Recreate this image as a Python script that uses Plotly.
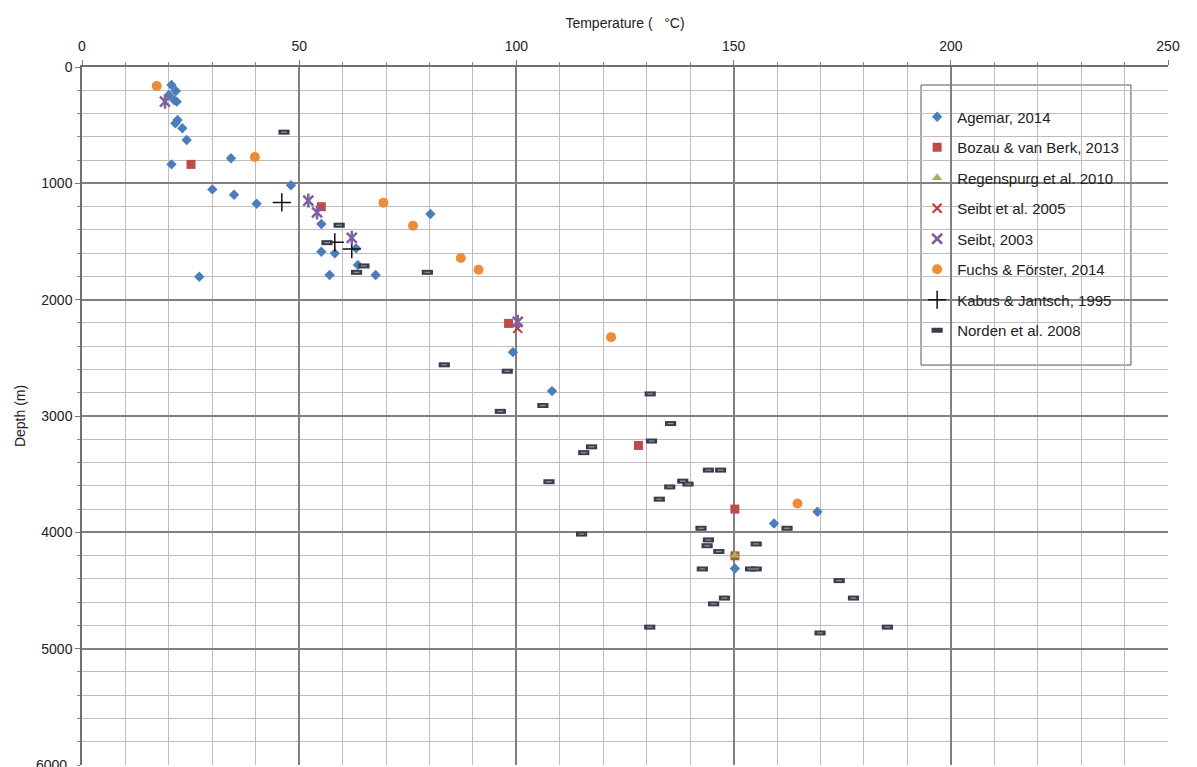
import plotly.graph_objects as go

# Temperature (°C) / depth (m) pairs per source
agemar_t = [20.6, 21.6, 20.0, 21.2, 21.8, 22.0, 21.5, 23.1, 24.1, 20.6, 34.3, 30.0, 35.0, 40.2,
            48.1, 27.0, 55.1, 55.1, 58.2, 63.1, 63.5, 57.0, 67.6, 80.2, 99.2, 108.2, 159.3, 169.3, 150.3]
agemar_d = [155, 206, 241, 284, 298, 456, 484, 527, 628, 837, 785, 1052, 1098, 1175,
            1017, 1803, 1350, 1588, 1602, 1559, 1702, 1788, 1788, 1264, 2451, 2786, 3924, 3823, 4311]

bozau_t = [25.1, 55.1, 98.2, 128.1, 150.3, 150.3]
bozau_d = [837, 1201, 2204, 3253, 3800, 4202]

regenspurg_t = [150.3]
regenspurg_d = [4200]

seibt2005_t = [100.3]
seibt2005_d = [2247]

seibt2003_t = [19.1, 52.1, 54.1, 62.1, 100.3]
seibt2003_d = [298, 1148, 1250, 1468, 2190]

fuchs_t = [17.2, 39.8, 69.4, 76.2, 87.2, 91.3, 121.8, 164.7]
fuchs_d = [163, 774, 1167, 1364, 1642, 1743, 2322, 3752]

kabus_t = [46.0, 58.2, 62.1]
kabus_d = [1164, 1507, 1565]

norden_t = [46.5, 59.2, 56.4, 64.9, 63.2, 79.5, 83.4, 97.9, 96.3, 106.1, 130.8, 135.5, 131.1,
            117.3, 115.5, 107.5, 144.2, 147.0, 138.3, 139.5, 135.3, 132.9, 115.0, 142.5, 144.2,
            143.9, 146.6, 155.2, 162.3, 142.8, 153.9, 155.2, 174.3, 177.6, 147.9, 145.4, 130.7,
            169.9, 185.4]
norden_d = [560, 1360, 1510, 1710, 1765, 1765, 2560, 2615, 2960, 2910, 2810, 3065, 3215,
            3265, 3315, 3565, 3465, 3465, 3560, 3585, 3610, 3715, 4015, 3965, 4065,
            4115, 4165, 4100, 3965, 4315, 4315, 4315, 4415, 4565, 4565, 4615, 4815,
            4865, 4815]

y_ticks = [0, 1000, 2000, 3000, 4000, 5000]
y_max = 6000

FONT = "Liberation Sans, Arial, sans-serif"
TXT = "#222222"
PURPLE = "#7D60A0"

series = [
    ("Agemar, 2014", agemar_t, agemar_d, dict(symbol="diamond", size=8, color="#4A7EBB")),
    ("Bozau & van Berk, 2013", bozau_t, bozau_d, dict(symbol="square", size=9, color="#BE4B48")),
    ("Regenspurg et al. 2010", regenspurg_t, regenspurg_d,
     dict(symbol="triangle-up", size=9, color="#98B954")),
    ("Seibt et al. 2005", seibt2005_t, seibt2005_d,
     dict(symbol="x-thin-open", size=9, color="#D03030", line=dict(width=2, color="#D03030"))),
    ("Seibt, 2003", seibt2003_t, seibt2003_d,
     dict(symbol="x-thin-open", size=10, color=PURPLE, line=dict(width=2.5, color=PURPLE))),
    ("Fuchs & Förster, 2014", fuchs_t, fuchs_d, dict(symbol="circle", size=10, color="#F08C38")),
    ("Kabus & Jantsch, 1995", kabus_t, kabus_d,
     dict(symbol="cross-thin-open", size=13, color="#111111", line=dict(width=1.5, color="#111111"))),
    ("Norden et al. 2008", norden_t, norden_d,
     dict(symbol="line-ew-open", size=8, color="#3A3E4A", line=dict(width=5, color="#3A3E4A"))),
]

fig = go.Figure()
for i, (name, t, d, mk) in enumerate(series):
    fig.add_trace(go.Scatter(x=t, y=d, mode="markers", name=name, marker=mk,
                             legendgroup=f"g{i}", cliponaxis=False))

# vertical stroke that turns the Seibt 2003 cross into a star
fig.add_trace(go.Scatter(x=seibt2003_t, y=seibt2003_d, mode="markers", showlegend=False,
                         legendgroup="g4", hoverinfo="skip",
                         marker=dict(symbol="line-ns-open", size=10, color=PURPLE,
                                     line=dict(width=2.5, color=PURPLE))))

# light core of the Norden dash markers
fig.add_trace(go.Scatter(x=norden_t, y=norden_d, mode="markers", showlegend=False,
                         legendgroup="g7", hoverinfo="skip",
                         marker=dict(symbol="line-ew-open", size=4, color="#9098A8",
                                     line=dict(width=1.2, color="#9098A8"))))

fig.update_layout(
    width=1197, height=767,
    margin=dict(l=82, r=29, t=67, b=2),
    paper_bgcolor="white", plot_bgcolor="white",
    font=dict(family=FONT, size=14, color=TXT),
    showlegend=True,
    legend=dict(x=0.769, y=0.952, xanchor="left", yanchor="top",
                bgcolor="rgba(0,0,0,0)", borderwidth=0,
                font=dict(family=FONT, size=15, color=TXT),
                tracegroupgap=8, itemwidth=30),
    shapes=[dict(type="rect", xref="paper", yref="paper",
                 x0=0.7726, x1=0.9659, y0=0.573, y1=0.9742,
                 line=dict(color="#555555", width=1), fillcolor="white", layer="below")],
    annotations=[dict(x=0, y=y_max, xref="paper", yref="y", text=str(y_max),
                      showarrow=False, xanchor="right", yanchor="middle", xshift=-13,
                      font=dict(family=FONT, size=14, color=TXT))],
)

fig.update_xaxes(
    side="top", range=[0, 250], tick0=0, dtick=50,
    showgrid=True, gridcolor="#808080", gridwidth=1.5,
    minor=dict(dtick=10, showgrid=True, gridcolor="#BDBDBD", gridwidth=1,
               ticks="outside", ticklen=3, tickcolor="#888888"),
    ticks="outside", ticklen=5, tickcolor="#777777",
    ticklabelstandoff=4,
    showline=True, linecolor="#707070", linewidth=1.5,
    zeroline=False,
    tickfont=dict(family=FONT, size=14, color=TXT),
    title=dict(text="Temperature (   °C)", standoff=6,
               font=dict(family=FONT, size=14, color=TXT)),
)

fig.update_yaxes(
    autorange=False, range=[y_max, 0], tickmode="array", tickvals=y_ticks,
    showgrid=True, gridcolor="#808080", gridwidth=1.5,
    minor=dict(tick0=0, dtick=200, showgrid=True, gridcolor="#BDBDBD", gridwidth=1,
               ticks="outside", ticklen=3, tickcolor="#888888"),
    ticks="outside", ticklen=5, tickcolor="#777777",
    showline=True, linecolor="#707070", linewidth=1.5,
    zeroline=False,
    tickfont=dict(family=FONT, size=14, color=TXT),
    title=dict(text="Depth (m)", standoff=12, font=dict(family=FONT, size=14, color=TXT)),
)

fig.write_html("out.html")
